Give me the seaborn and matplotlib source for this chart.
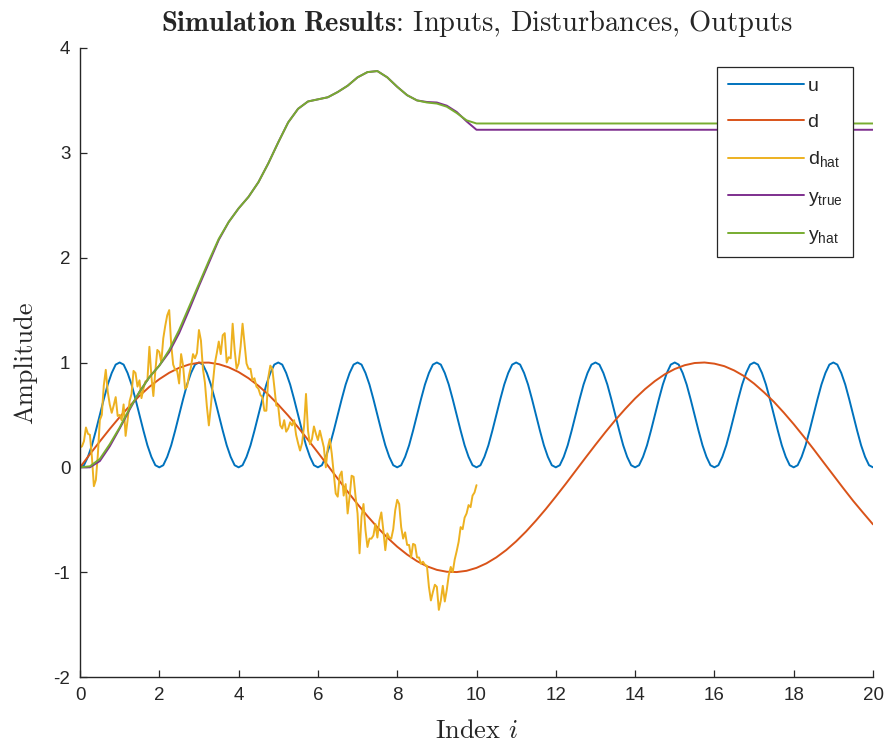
import numpy as np
import pandas as pd
import matplotlib
matplotlib.use("Agg")
import matplotlib.pyplot as plt
import seaborn as sns

# ---- data -------------------------------------------------------------
# input u, sampled every 0.1 on [0, 20]
u_vals = [
    0.00, 0.02, 0.10, 0.21, 0.35, 0.50, 0.65, 0.79, 0.90, 0.98, 1.00, 0.98, 0.90, 0.79, 0.65, 0.50, 0.35, 0.21, 0.10, 0.02,
    0.00, 0.02, 0.10, 0.21, 0.35, 0.50, 0.65, 0.79, 0.90, 0.98, 1.00, 0.98, 0.90, 0.79, 0.65, 0.50, 0.35, 0.21, 0.10, 0.02,
    0.00, 0.02, 0.10, 0.21, 0.35, 0.50, 0.65, 0.79, 0.90, 0.98, 1.00, 0.98, 0.90, 0.79, 0.65, 0.50, 0.35, 0.21, 0.10, 0.02,
    0.00, 0.02, 0.10, 0.21, 0.35, 0.50, 0.65, 0.79, 0.90, 0.98, 1.00, 0.98, 0.90, 0.79, 0.65, 0.50, 0.35, 0.21, 0.10, 0.02,
    0.00, 0.02, 0.10, 0.21, 0.35, 0.50, 0.65, 0.79, 0.90, 0.98, 1.00, 0.98, 0.90, 0.79, 0.65, 0.50, 0.35, 0.21, 0.10, 0.02,
    0.00, 0.02, 0.10, 0.21, 0.35, 0.50, 0.65, 0.79, 0.90, 0.98, 1.00, 0.98, 0.90, 0.79, 0.65, 0.50, 0.35, 0.21, 0.10, 0.02,
    0.00, 0.02, 0.10, 0.21, 0.35, 0.50, 0.65, 0.79, 0.90, 0.98, 1.00, 0.98, 0.90, 0.79, 0.65, 0.50, 0.35, 0.21, 0.10, 0.02,
    0.00, 0.02, 0.10, 0.21, 0.35, 0.50, 0.65, 0.79, 0.90, 0.98, 1.00, 0.98, 0.90, 0.79, 0.65, 0.50, 0.35, 0.21, 0.10, 0.02,
    0.00, 0.02, 0.10, 0.21, 0.35, 0.50, 0.65, 0.79, 0.90, 0.98, 1.00, 0.98, 0.90, 0.79, 0.65, 0.50, 0.35, 0.21, 0.10, 0.02,
    0.00, 0.02, 0.10, 0.21, 0.35, 0.50, 0.65, 0.79, 0.90, 0.98, 1.00, 0.98, 0.90, 0.79, 0.65, 0.50, 0.35, 0.21, 0.10, 0.02,
    0.00,
]

# disturbance d, sampled every 0.25 on [0, 20]
d_vals = [
    0.000, 0.125, 0.247, 0.366, 0.479, 0.585, 0.682, 0.768, 0.841, 0.902,
    0.949, 0.981, 0.998, 0.999, 0.984, 0.954, 0.909, 0.850, 0.778, 0.694,
    0.598, 0.494, 0.382, 0.263, 0.141, 0.017, -0.108, -0.232, -0.351, -0.465,
    -0.572, -0.670, -0.757, -0.832, -0.895, -0.944, -0.978, -0.996, -0.999, -0.987,
    -0.959, -0.916, -0.859, -0.789, -0.706, -0.612, -0.508, -0.397, -0.279, -0.158,
    -0.033, 0.092, 0.215, 0.335, 0.450, 0.557, 0.657, 0.746, 0.823, 0.888,
    0.938, 0.974, 0.995, 1.000, 0.989, 0.965, 0.924, 0.870, 0.799, 0.716,
    0.625, 0.522, 0.412, 0.295, 0.174, 0.049, -0.075, -0.199, -0.320, -0.433,
    -0.544,
]

# estimated disturbance d_hat, sampled every 0.05 on [0, 10]
d_hat_vals = [
    0.19, 0.20, 0.25, 0.38, 0.32, 0.31, 0.10, -0.18, -0.12, 0.12,
    0.45, 0.50, 0.78, 0.93, 0.72, 0.60, 0.52, 0.59, 0.67, 0.49,
    0.50, 0.45, 0.60, 0.30, 0.45, 0.63, 0.70, 0.92, 0.90, 0.77,
    0.83, 0.66, 0.75, 0.82, 0.83, 1.15, 0.87, 0.68, 0.92, 1.12,
    1.10,
    1.00, 1.23, 1.35, 1.45, 1.50, 1.17, 0.98, 0.93, 0.92, 0.80,
    1.08, 0.97, 0.75, 0.77, 0.88, 0.96, 1.08, 1.04, 1.09, 1.31,
    1.21, 0.94, 0.81, 0.58, 0.40, 0.58, 0.80, 0.99, 1.09, 1.20,
    1.08, 1.26, 1.28, 1.00, 1.05, 1.04, 1.37, 1.12, 0.94, 0.99,
    1.15, 1.37, 1.18, 0.99, 0.94, 0.94, 0.83, 0.85, 0.77, 0.75,
    0.69, 0.67, 0.54, 0.54, 0.86, 0.97, 0.94, 0.77, 0.59, 0.58,
    0.40, 0.37, 0.45, 0.34, 0.37, 0.43, 0.40, 0.45, 0.31, 0.23,
    0.16, 0.23, 0.39, 0.70, 0.35, 0.22, 0.27, 0.39, 0.32, 0.26,
    0.35, 0.27, 0.19, 0.00, 0.19, 0.27, 0.13, -0.06, -0.25, -0.28,
    -0.08, -0.04, -0.27, -0.16, -0.44, -0.28, -0.08, -0.09, -0.28, -0.44,
    -0.82, -0.47, -0.35, -0.60, -0.76, -0.68, -0.68, -0.65, -0.54, -0.67,
    -0.51, -0.43, -0.60, -0.79, -0.63, -0.67, -0.68, -0.59, -0.41, -0.31,
    -0.35, -0.57, -0.68, -0.62, -0.74, -0.74, -0.86, -0.73, -0.74, -0.86,
    -0.86, -0.92, -0.90, -0.93, -0.94, -1.14, -1.27, -1.19, -1.12, -1.14,
    -1.36, -1.27, -1.13, -1.28, -1.17, -1.03, -0.95, -1.00, -0.88, -0.80,
    -0.71, -0.57, -0.59, -0.48, -0.44, -0.36, -0.38, -0.27, -0.24, -0.17,
]

# outputs, sampled every 0.25 on [0, 10]; held constant afterwards up to 20
y_index = [0.00, 0.25, 0.50, 0.75, 1.00, 1.25, 1.50, 1.75, 2.00, 2.25,
           2.50, 2.75, 3.00, 3.25, 3.50, 3.75, 4.00, 4.25, 4.50, 4.75,
           5.00, 5.25, 5.50, 5.75, 6.00, 6.25, 6.50, 6.75, 7.00, 7.25,
           7.50, 7.75, 8.00, 8.25, 8.50, 8.75, 9.00, 9.25, 9.50, 9.75,
           10.00, 20.00]
y_true_vals = [0.00, 0.00, 0.06, 0.20, 0.37, 0.55, 0.72, 0.86, 0.97, 1.10,
               1.28, 1.50, 1.73, 1.95, 2.17, 2.34, 2.47, 2.58, 2.72, 2.90,
               3.10, 3.29, 3.42, 3.49, 3.51, 3.53, 3.58, 3.64, 3.72, 3.77,
               3.78, 3.72, 3.63, 3.55, 3.50, 3.485, 3.48, 3.45, 3.39, 3.30,
               3.22, 3.22]
y_hat_vals = [0.00, 0.01, 0.08, 0.22, 0.38, 0.56, 0.72, 0.86, 0.97, 1.12,
              1.31, 1.53, 1.75, 1.97, 2.18, 2.34, 2.47, 2.58, 2.72, 2.90,
              3.10, 3.29, 3.42, 3.49, 3.51, 3.53, 3.58, 3.64, 3.72, 3.77,
              3.78, 3.72, 3.63, 3.55, 3.50, 3.48, 3.47, 3.44, 3.38, 3.31,
              3.28, 3.28]

series_names = ["u", "d", "d$_{\\mathregular{hat}}$",
                "y$_{\\mathregular{true}}$", "y$_{\\mathregular{hat}}$"]
series_colors = ["#0072BD", "#D95319", "#EDB120", "#7E2F8E", "#77AC30"]

# ---- long-form table --------------------------------------------------
frames = [
    pd.DataFrame({"i": np.linspace(0, 20, len(u_vals)), "value": u_vals, "series": series_names[0]}),
    pd.DataFrame({"i": np.linspace(0, 20, len(d_vals)), "value": d_vals, "series": series_names[1]}),
    pd.DataFrame({"i": np.linspace(0, 10, len(d_hat_vals)), "value": d_hat_vals, "series": series_names[2]}),
    pd.DataFrame({"i": y_index, "value": y_true_vals, "series": series_names[3]}),
    pd.DataFrame({"i": y_index, "value": y_hat_vals, "series": series_names[4]}),
]
df = pd.concat(frames, ignore_index=True)

# ---- styling ----------------------------------------------------------
sns.set_theme(style="ticks")
plt.rcParams["font.family"] = ["Liberation Sans", "DejaVu Sans"]
plt.rcParams["axes.unicode_minus"] = False

fig = plt.figure(figsize=(8.89, 7.46), dpi=100)
ax = fig.add_axes([80 / 889, 69 / 746, 793 / 889, 629 / 746])

sns.lineplot(data=df, x="i", y="value", hue="series", hue_order=series_names,
             palette=series_colors, estimator=None, sort=False,
             linewidth=1.4, ax=ax)

ax.set_xlim(0, 20)
ax.set_ylim(-2, 4)
ax.set_xticks(np.arange(0, 21, 2))
ax.set_yticks(np.arange(-2, 5, 1))
sns.despine(ax=ax)
for side in ("left", "bottom"):
    ax.spines[side].set_color("#262626")
    ax.spines[side].set_linewidth(1.0)
ax.tick_params(direction="in", length=5, width=0.9, color="#262626",
               labelcolor="#262626", labelsize=13.5, pad=7)

ax.set_title(r"$\mathbf{Simulation\ Results}$: Inputs, Disturbances, Outputs",
             fontfamily="cmr10", math_fontfamily="cm", fontsize=20.5,
             color="#262626", pad=12)
ax.set_xlabel("Index $i$", fontfamily="cmr10", math_fontfamily="cm",
              fontsize=19, color="#262626", labelpad=11)
ax.set_ylabel("Amplitude", fontfamily="cmr10", math_fontfamily="cm",
              fontsize=19, color="#262626", labelpad=12)

leg = ax.legend(loc="upper right", bbox_to_anchor=(0.975, 0.970),
                borderaxespad=0, fontsize=14, handlelength=3.9,
                handletextpad=0.2, labelspacing=0.95, frameon=True,
                fancybox=False, framealpha=1, edgecolor="#262626",
                borderpad=0.55)
leg.get_frame().set_linewidth(0.9)

fig.savefig("out.png", dpi=100)
